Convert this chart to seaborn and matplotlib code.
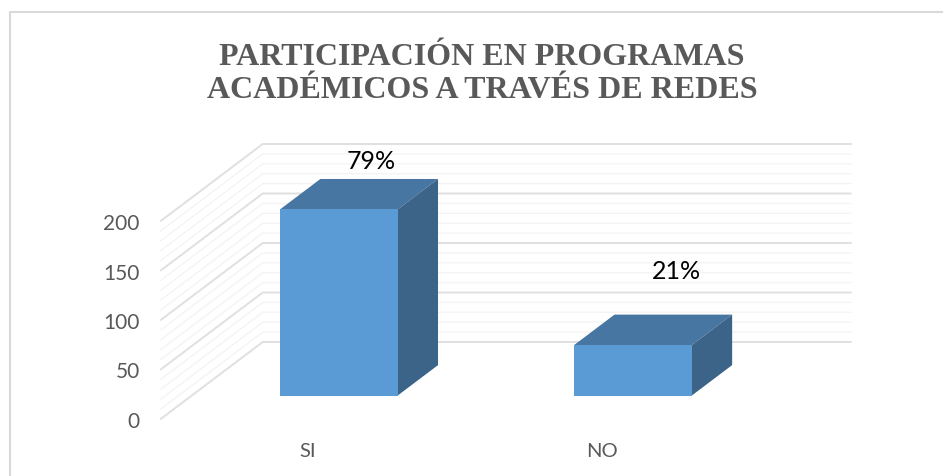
import matplotlib
matplotlib.use("Agg")
import matplotlib.pyplot as plt
import pandas as pd
import seaborn as sns
from matplotlib.lines import Line2D
from matplotlib.patches import Polygon

categories = ["SI", "NO"]
values = [188, 51]
percent_labels = ["79%", "21%"]
y_ticks = [0, 50, 100, 150, 200]
minor_ticks = [v for v in range(0, 200, 10) if v % 50 != 0]
title = "PARTICIPACIÓN EN PROGRAMAS\nACADÉMICOS A TRAVÉS DE REDES"

W, H = 943, 477

# fake 3d: depth of the floor in data units, bars sit part way into it
depth_x = 102 / 294
depth_y = 77 / 0.99
bar_start = 0.305
bar_end = 0.70

# label offsets from the top of each bar, in data units
label_dx = [0.217, 0.252]
label_dy = [7, 33]

df = pd.DataFrame({"cat": categories, "val": values})

sns.set_theme(style="white")
plt.rcParams["font.family"] = ["Lato", "DejaVu Sans"]

fig = plt.figure(figsize=(W / 100, H / 100), dpi=100)
ax = fig.add_axes([160.7 / W, 1 - 420 / H, (851 - 160.7) / W, (420 - 145) / H])
ax.patch.set_alpha(0)

sns.barplot(data=df, x="cat", y="val", color="#5B9BD5", saturation=1, width=0.4, linewidth=0, ax=ax, zorder=5)
ax.set_xlim(-0.5, 1.5 + depth_x)
ax.set_ylim(0, 200 + depth_y)

# side wall and back wall lines
for v in minor_ticks:
    ax.plot([-0.5, -0.5 + depth_x, 1.5 + depth_x], [v, v + depth_y, v + depth_y], color="#F4F4F4", lw=1, zorder=1, clip_on=False)
for v in y_ticks:
    ax.plot([-0.5, -0.5 + depth_x, 1.5 + depth_x], [v, v + depth_y, v + depth_y], color="#E0E0E0", lw=1.4, zorder=2, clip_on=False)

# move the front faces back and add top and side faces
for i, bar in enumerate(ax.patches):
    bar.set_x(bar.get_x() + depth_x * bar_start)
    bar.set_y(depth_y * bar_start)
    x0, x1 = bar.get_x(), bar.get_x() + bar.get_width()
    y0, y1 = bar.get_y(), bar.get_y() + bar.get_height()
    dx = depth_x * (bar_end - bar_start)
    dy = depth_y * (bar_end - bar_start)
    ax.add_patch(Polygon([(x0, y1), (x1, y1), (x1 + dx, y1 + dy), (x0 + dx, y1 + dy)], fc="#4676A1", ec="none", zorder=4))
    ax.add_patch(Polygon([(x1, y0), (x1, y1), (x1 + dx, y1 + dy), (x1 + dx, y0 + dy)], fc="#3B6488", ec="none", zorder=4))
    ax.text(i + label_dx[i], y1 + dy + label_dy[i], percent_labels[i], ha="center", va="bottom", fontsize=18, color="black", zorder=6, clip_on=False)

ax.set_xlabel("")
ax.set_ylabel("")
ax.set_xticks([0, 1], categories)
ax.set_yticks(y_ticks)
ax.tick_params(axis="x", length=0, pad=16.5, labelsize=14.5, labelcolor="#595959")
ax.tick_params(axis="y", length=0, pad=15, labelsize=15, labelcolor="#595959")
sns.despine(ax=ax, left=True, bottom=True)

fig.text(482 / W, 1 - 74 / H, title, ha="center", va="center", family="Liberation Serif", fontweight="bold", fontsize=23, color="#595959", linespacing=1.15)

# chart border, only top and left are in the picture
fig.add_artist(Line2D([10 / W, 10 / W, 1], [0, 1 - 13 / H, 1 - 13 / H], color="#D9D9D9", lw=1.5))

fig.savefig("out.png", dpi=100)
